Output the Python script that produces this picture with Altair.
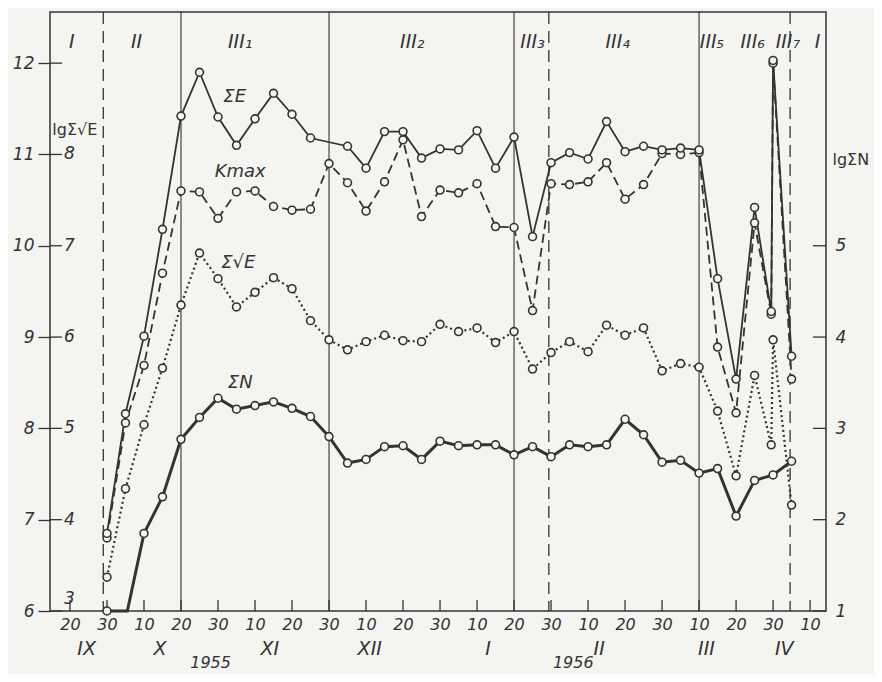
import altair as alt
import pandas as pd

# x positions in dekad steps: 0 = 20 IX 1955, 1 = 30 IX, 2 = 10 X ... 20 = 10 IV 1956
se_x = [1, 1.5, 2, 2.5, 3, 3.5, 4, 4.5, 5, 5.5, 6, 6.5, 7.5, 8, 8.5, 9, 9.5, 10, 10.5, 11, 11.5,
        12, 12.5, 13, 13.5, 14, 14.5, 15, 15.5, 16, 16.5, 17, 17.5, 18, 18.5, 18.95, 19, 19.5]
se_v = [6.85, 8.16, 9.01, 10.18, 11.42, 11.90, 11.41, 11.10, 11.39, 11.67, 11.44, 11.18, 11.09, 10.85,
        11.25, 11.25, 10.96, 11.06, 11.05, 11.26, 10.85, 11.19, 10.10, 10.91, 11.02, 10.95, 11.36, 11.03,
        11.09, 11.05, 11.07, 11.05, 9.64, 8.54, 10.42, 9.28, 12.03, 8.79]  # lg ΣE

km_x = [1, 1.5, 2, 2.5, 3, 3.5, 4, 4.5, 5, 5.5, 6, 6.5, 7, 7.5, 8, 8.5, 9, 9.5, 10, 10.5, 11, 11.5,
        12, 12.5, 13, 13.5, 14, 14.5, 15, 15.5, 16, 16.5, 17, 17.5, 18, 18.5, 18.95, 19, 19.5]
km_v = [6.80, 8.06, 8.69, 9.70, 10.60, 10.59, 10.30, 10.59, 10.60, 10.43, 10.39, 10.40, 10.90, 10.69,
        10.38, 10.70, 11.16, 10.32, 10.61, 10.58, 10.68, 10.21, 10.20, 9.29, 10.68, 10.67, 10.70, 10.91,
        10.51, 10.67, 11.01, 11.00, 11.02, 8.89, 8.17, 10.25, 9.25, 12.00, 8.54]  # Kmax (lg ΣE scale)

sq_x = km_x
sq_v = [3.37, 4.34, 5.04, 5.66, 6.35, 6.92, 6.64, 6.33, 6.49, 6.65, 6.53, 6.18, 5.97, 5.86, 5.95, 6.02,
        5.96, 5.95, 6.14, 6.06, 6.10, 5.94, 6.06, 5.65, 5.83, 5.95, 5.84, 6.13, 6.02, 6.10, 5.63, 5.71,
        5.67, 5.19, 4.48, 5.58, 4.82, 5.97, 4.16]  # lg Σ√E

sn_x = [1, 1.55, 2, 2.5, 3, 3.5, 4, 4.5, 5, 5.5, 6, 6.5, 7, 7.5, 8, 8.5, 9, 9.5, 10, 10.5, 11, 11.5,
        12, 12.5, 13, 13.5, 14, 14.5, 15, 15.5, 16, 16.5, 17, 17.5, 18, 18.5, 19, 19.5]
sn_v = [1.0, 1.0, 1.85, 2.25, 2.88, 3.12, 3.33, 3.21, 3.25, 3.29, 3.22, 3.13, 2.91, 2.62, 2.66, 2.80,
        2.81, 2.66, 2.86, 2.81, 2.82, 2.82, 2.71, 2.80, 2.69, 2.82, 2.80, 2.82, 3.10, 2.93, 2.63, 2.65,
        2.51, 2.56, 2.04, 2.43, 2.49, 2.64]  # lg ΣN
sn_nomark = [1.55]

solid_lines = [3, 7, 12, 17]
dashed_lines = [0.9, 12.94, 19.46]

stage_lbl = ["I", "II", "III₁", "III₂", "III₃", "III₄", "III₅", "III₆", "III₇", "I"]
stage_x = [0.05, 1.8, 4.6, 9.25, 12.5, 14.8, 17.35, 18.45, 19.4, 20.2]

month_lbl = ["IX", "X", "XI", "XII", "I", "II", "III", "IV"]
month_x = [0.45, 2.43, 5.4, 8.1, 11.3, 14.3, 17.2, 19.3]
year_lbl = ["1955", "1956"]
year_x = [3.8, 13.6]

tick_pos = list(range(21))
left_ticks = [6, 7, 8, 9, 10, 11, 12]
inner_lbl = ["4", "5", "6", "7", "8"]
corner_lbl = "3"
right_ticks = [1, 2, 3, 4, 5]

ser_lbl = ["ΣE", "Kmax", "Σ√E", "ΣN"]
ser_x = [4.45, 4.6, 4.55, 4.6]
ser_y = [11.63, 10.81, 9.81, 8.50]

OFF_SQ = 3   # lg Σ√E + 3 aligns with lg ΣE
OFF_N = 5    # lg ΣN + 5 aligns with lg ΣE

INK = "#333333"
BG = "#f4f4f1"
FONT = "DejaVu Sans"

W, H = 776, 599
xs = alt.Scale(domain=[-0.54, 20.43], nice=False, zero=False)
ys = alt.Scale(domain=[6, 12.56], nice=False, zero=False)

x_axis = alt.Axis(values=tick_pos, tickSize=0, domain=False, grid=False,
                  labelExpr="datum.value % 3 == 0 ? '20' : (datum.value % 3 == 1 ? '30' : '10')",
                  labelFont=FONT, labelFontStyle="italic", labelFontSize=16, labelColor=INK,
                  labelPadding=5, labelOverlap=False)
y_axis = alt.Axis(values=left_ticks, tickSize=12, tickColor=INK, tickWidth=1.3, domain=False,
                  grid=False, labelFont=FONT, labelFontStyle="italic", labelFontSize=17,
                  labelColor=INK, labelPadding=4, labelOverlap=False)

X = alt.X("x:Q", scale=xs, axis=x_axis, title=None)
Y = alt.Y("y:Q", scale=ys, axis=y_axis, title=None)


def df(xv, yv, off=0):
    return pd.DataFrame({"x": xv, "y": [v + off for v in yv]})


# bottom inner ticks
base = alt.Chart(pd.DataFrame({"x": tick_pos})).mark_rule(color=INK, strokeWidth=1.3).encode(
    x=X, y=alt.value(H), y2=alt.value(H - 11))

vsolid = alt.Chart(pd.DataFrame({"x": solid_lines})).mark_rule(color=INK, strokeWidth=1.1).encode(
    x=X, y=alt.value(0), y2=alt.value(H))
vdash = alt.Chart(pd.DataFrame({"x": dashed_lines})).mark_rule(
    color=INK, strokeWidth=1.3, strokeDash=[12, 7]).encode(x=X, y=alt.value(0), y2=alt.value(H))

inner_ticks = alt.Chart(pd.DataFrame({"y": left_ticks})).mark_rule(color=INK, strokeWidth=1.3).encode(
    y=Y, x=alt.value(0), x2=alt.value(12))
inner_df = pd.DataFrame({"y": [int(l) + OFF_SQ for l in inner_lbl], "t": inner_lbl})
inner_text = alt.Chart(inner_df).mark_text(
    font=FONT, fontStyle="italic", fontSize=17, color=INK, align="left", baseline="middle").encode(
    y=Y, x=alt.value(14), text="t:N")
corner_text = alt.Chart(pd.DataFrame({"y": [int(corner_lbl) + OFF_SQ], "t": [corner_lbl]})).mark_text(
    font=FONT, fontStyle="italic", fontSize=17, color=INK, align="left", baseline="middle", dy=-12).encode(
    y=Y, x=alt.value(14), text="t:N")


def series(xv, yv, off, width, dash, nomark=()):
    d = df(xv, yv, off)
    kw = dict(color=INK, strokeWidth=width)
    if dash:
        kw["strokeDash"] = dash
    line = alt.Chart(d).mark_line(**kw).encode(x=X, y=Y, order="x:Q")
    dp = d[~d["x"].isin(list(nomark))]
    pts = alt.Chart(dp).mark_point(shape="circle", filled=False, fill=BG, fillOpacity=1,
                                   stroke=INK, strokeWidth=1.6, size=62, opacity=1).encode(x=X, y=Y)
    return line, pts


l_se, p_se = series(se_x, se_v, 0, 1.8, None)
l_km, p_km = series(km_x, km_v, 0, 1.8, [9, 5])
l_sq, p_sq = series(sq_x, sq_v, OFF_SQ, 2.2, [2, 3])
l_sn, p_sn = series(sn_x, sn_v, OFF_N, 3.0, None, sn_nomark)

stages = alt.Chart(pd.DataFrame({"x": stage_x, "t": stage_lbl})).mark_text(
    font=FONT, fontStyle="italic", fontSize=19, color=INK, align="center", baseline="middle").encode(
    x=X, y=alt.value(30), text="t:N")

months = alt.Chart(pd.DataFrame({"x": month_x, "t": month_lbl})).mark_text(
    font=FONT, fontStyle="italic", fontSize=19, color=INK, align="center", baseline="middle").encode(
    x=X, y=alt.value(H + 38), text="t:N")
years = alt.Chart(pd.DataFrame({"x": year_x, "t": year_lbl})).mark_text(
    font=FONT, fontStyle="italic", fontSize=16, color=INK, align="center", baseline="middle").encode(
    x=X, y=alt.value(H + 52), text="t:N")

sers = alt.Chart(pd.DataFrame({"x": ser_x, "y": ser_y, "t": ser_lbl})).mark_text(
    font=FONT, fontStyle="italic", fontSize=18, color=INK, align="center", baseline="middle").encode(
    x=X, y=Y, text="t:N")

axis_titles = alt.Chart(pd.DataFrame({"x": [0.13, 21.1], "y": [11.27, 10.94], "t": ["lgΣ√E", "lgΣN"]})).mark_text(
    font=FONT, fontSize=16, color=INK, align="center", baseline="middle").encode(
    x=X, y=Y, text="t:N")

main = alt.layer(base, vsolid, vdash, inner_ticks, inner_text, corner_text,
                 l_sn, l_sq, l_km, l_se, p_sn, p_sq, p_km, p_se,
                 stages, months, years, sers, axis_titles)

right = alt.Chart(pd.DataFrame({"y2": [r + OFF_N for r in right_ticks]})).mark_rule(
    color=INK, strokeWidth=1.3).encode(
    y=alt.Y("y2:Q", scale=alt.Scale(domain=[6, 12.56], nice=False, zero=False), title=None,
            axis=alt.Axis(orient="right", values=[r + OFF_N for r in right_ticks],
                          labelExpr="datum.value - 5", tickSize=0, domain=False, grid=False,
                          labelFont=FONT, labelFontStyle="italic", labelFontSize=17, labelColor=INK,
                          labelPadding=9)),
    x=alt.value(W - 13), x2=alt.value(W))

chart = alt.layer(main, right).resolve_scale(y="independent").properties(
    width=W, height=H,
    background=BG,
    padding={"left": 42, "top": 4, "right": 48, "bottom": 63},
    autosize=alt.AutoSizeParams(type="none"),
).configure_view(stroke=INK, strokeWidth=1.5)

chart.save("out.html", embed_options={"renderer": "svg", "actions": False})
